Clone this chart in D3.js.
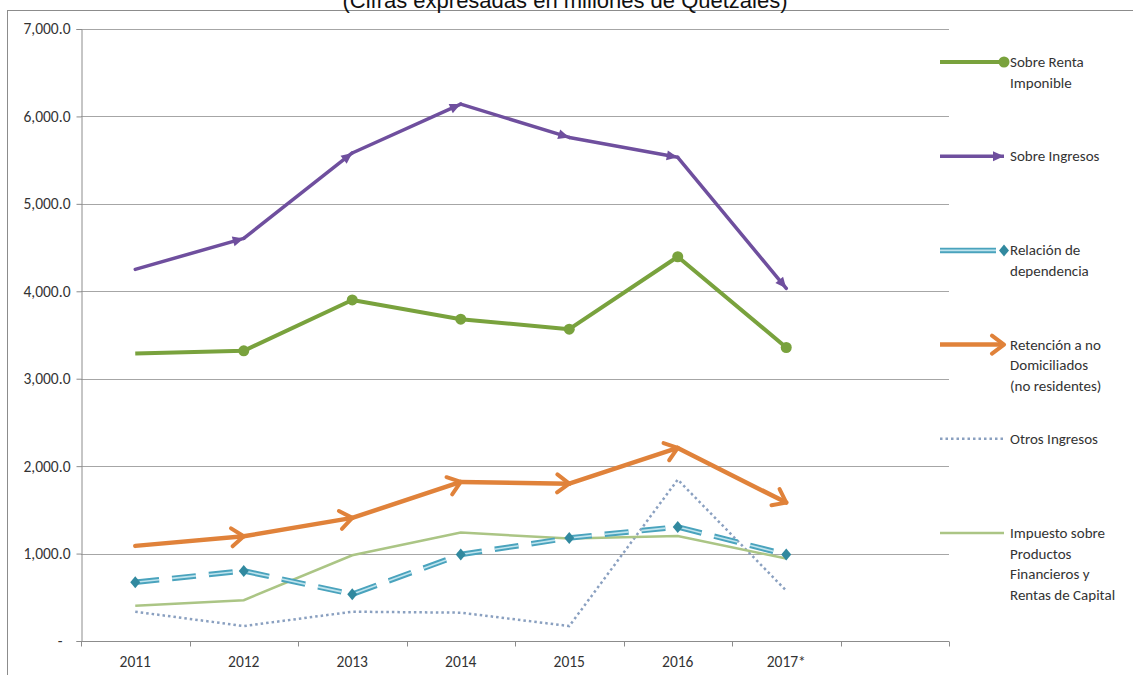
<!DOCTYPE html>
<html>
<head>
<meta charset="utf-8">
<script src="https://cdn.jsdelivr.net/npm/d3@7"></script>
<style>
  body { margin: 0; background: #fff; }
  svg { display: block; }
  text { font-family: Carlito, Lato, "Liberation Sans", sans-serif; fill: #222; }
</style>
</head>
<body>
<script>
// Impuesto Sobre la Renta por rubro (millones de Quetzales)
const years = ["2011", "2012", "2013", "2014", "2015", "2016", "2017*"];
const yTicks = [0, 1000, 2000, 3000, 4000, 5000, 6000, 7000];

const sobreRenta = [3289, 3319, 3901, 3681, 3567, 4395, 3357];
const sobreIngresos = [4251, 4605, 5582, 6141, 5760, 5532, 4034];
const relacionDep = [672, 802, 535, 989, 1179, 1305, 989];
const retencionNoDom = [1088, 1198, 1408, 1819, 1800, 2208, 1583];
const otrosIngresos = [335, 171, 335, 324, 171, 1846, 575];
const impuestoProductos = [402, 467, 981, 1240, 1171, 1202, 943];

const legendLabels = [
  ["Sobre Renta", "Imponible"],
  ["Sobre Ingresos"],
  ["Relación de", "dependencia"],
  ["Retención a no", "Domiciliados", "(no residentes)"],
  ["Otros Ingresos"],
  ["Impuesto sobre", "Productos", "Financieros y", "Rentas de Capital"]
];

const width = 1133, height = 675;
const margin = { top: 29, left: 81, right: 184, bottom: 34 };

const svg = d3.select("body").append("svg")
  .attr("width", width)
  .attr("height", height);

// outer frame of the chart area
svg.append("rect")
  .attr("x", 7.5).attr("y", 10.5)
  .attr("width", width + 20).attr("height", height + 20)
  .attr("fill", "none").attr("stroke", "#8c8c8c");

svg.append("text")
  .attr("x", 565).attr("y", 8)
  .attr("text-anchor", "middle")
  .style("font-family", "'Liberation Sans', Arial, sans-serif")
  .style("font-size", "22px")
  .style("fill", "#111")
  .text("(Cifras expresadas en millones de Quetzales)");

// the category axis has one extra empty slot at the end
const x = d3.scaleBand()
  .domain(years.concat([""]))
  .range([margin.left, width - margin.right]);

const y = d3.scaleLinear()
  .domain([0, 7000])
  .range([height - margin.bottom, margin.top]);

const cx = (i) => x(years[i]) + x.bandwidth() / 2;

// gridlines
svg.append("g")
  .selectAll("line")
  .data(yTicks.slice(1))
  .join("line")
  .attr("x1", margin.left).attr("x2", width - margin.right)
  .attr("y1", (d) => Math.round(y(d)) + 0.5)
  .attr("y2", (d) => Math.round(y(d)) + 0.5)
  .attr("stroke", "#a6a6a6");

// y axis
const yAxis = d3.axisLeft(y)
  .tickValues(yTicks)
  .tickSize(5)
  .tickPadding(6)
  .tickFormat((d) => d === 0 ? "-" : d3.format(",.1f")(d));

const gy = svg.append("g")
  .attr("transform", "translate(" + (margin.left + 0.5) + ",0)")
  .call(yAxis);
gy.attr("font-family", null).attr("font-size", null);
gy.select(".domain").attr("stroke", "#8c8c8c");
gy.selectAll(".tick line").attr("stroke", "#8c8c8c");
gy.selectAll(".tick text").style("font-size", "15.5px").style("fill", "#333");
gy.select(".tick text").attr("dx", -8);

// x axis: ticks on the category boundaries
const gx = svg.append("g")
  .attr("transform", "translate(0," + (Math.round(y(0)) + 0.5) + ")");
gx.append("line")
  .attr("x1", margin.left).attr("x2", width - margin.right)
  .attr("stroke", "#8c8c8c");
gx.selectAll(".bound")
  .data(x.domain().concat(["end"]))
  .join("line")
  .attr("class", "bound")
  .attr("x1", (d, i) => Math.round(margin.left + i * x.step()) + 0.5)
  .attr("x2", (d, i) => Math.round(margin.left + i * x.step()) + 0.5)
  .attr("y1", 0).attr("y2", 5)
  .attr("stroke", "#8c8c8c");
gx.selectAll(".lab")
  .data(years)
  .join("text")
  .attr("class", "lab")
  .attr("x", (d) => x(d) + x.bandwidth() / 2)
  .attr("y", 25)
  .attr("text-anchor", "middle")
  .style("font-size", "15.5px")
  .style("fill", "#333")
  .text((d) => d);

// markers
const defs = svg.append("defs");
defs.append("marker")
  .attr("id", "arrowPurple")
  .attr("markerUnits", "userSpaceOnUse")
  .attr("viewBox", "-12 -6 13 12")
  .attr("refX", 0).attr("refY", 0)
  .attr("markerWidth", 13).attr("markerHeight", 12)
  .attr("orient", "auto")
  .append("path")
  .attr("d", "M-11,-5 L0,0 L-11,5 Z")
  .attr("fill", "#6f4f9e");
defs.append("marker")
  .attr("id", "arrowOrange")
  .attr("markerUnits", "userSpaceOnUse")
  .attr("viewBox", "-16 -12 19 24")
  .attr("refX", 0).attr("refY", 0)
  .attr("markerWidth", 19).attr("markerHeight", 24)
  .attr("orient", "auto")
  .append("path")
  .attr("d", "M-12,-9 L0,0 L-12,9")
  .attr("fill", "none")
  .attr("stroke", "#e0823a")
  .attr("stroke-width", 4)
  .attr("stroke-linecap", "round")
  .attr("stroke-linejoin", "round");

const line = d3.line()
  .x((d, i) => cx(i))
  .y((d) => y(d));

const plot = svg.append("g");

// Otros Ingresos (dotted)
plot.append("path")
  .datum(otrosIngresos)
  .attr("d", line)
  .attr("fill", "none")
  .attr("stroke", "#8aa0c0")
  .attr("stroke-width", 2.5)
  .attr("stroke-dasharray", "2.5,3");

// Impuesto sobre Productos Financieros
plot.append("path")
  .datum(impuestoProductos)
  .attr("d", line)
  .attr("fill", "none")
  .attr("stroke", "#abc585")
  .attr("stroke-width", 2.5);

// Relación de dependencia: compound dashed line
plot.append("path")
  .datum(relacionDep)
  .attr("d", line)
  .attr("fill", "none")
  .attr("stroke", "#4aa3bd")
  .attr("stroke-width", 5.5)
  .attr("stroke-dasharray", "24,13");
plot.append("path")
  .datum(relacionDep)
  .attr("d", line)
  .attr("fill", "none")
  .attr("stroke", "#bfe4ee")
  .attr("stroke-width", 1.6)
  .attr("stroke-dasharray", "24,13");
plot.selectAll(".dia")
  .data(relacionDep)
  .join("path")
  .attr("class", "dia")
  .attr("transform", (d, i) => "translate(" + cx(i) + "," + y(d) + ")")
  .attr("d", "M0,-6 L5,0 L0,6 L-5,0 Z")
  .attr("fill", "#31899f");

// Retención a no domiciliados: open arrows on each segment
plot.selectAll(".segO")
  .data(retencionNoDom.slice(1))
  .join("line")
  .attr("class", "segO")
  .attr("x1", (d, i) => cx(i)).attr("y1", (d, i) => y(retencionNoDom[i]))
  .attr("x2", (d, i) => cx(i + 1)).attr("y2", (d) => y(d))
  .attr("stroke", "#e0823a")
  .attr("stroke-width", 4.5)
  .attr("stroke-linecap", "round")
  .attr("marker-end", "url(#arrowOrange)");

// Sobre Renta Imponible
plot.append("path")
  .datum(sobreRenta)
  .attr("d", line)
  .attr("fill", "none")
  .attr("stroke", "#79a23d")
  .attr("stroke-width", 4)
  .attr("stroke-linejoin", "round");
plot.selectAll(".dot")
  .data(sobreRenta.slice(1))
  .join("circle")
  .attr("class", "dot")
  .attr("cx", (d, i) => cx(i + 1))
  .attr("cy", (d) => y(d))
  .attr("r", 5.5)
  .attr("fill", "#79a23d");

// Sobre Ingresos: filled arrows on each segment
plot.selectAll(".segP")
  .data(sobreIngresos.slice(1))
  .join("line")
  .attr("class", "segP")
  .attr("x1", (d, i) => cx(i)).attr("y1", (d, i) => y(sobreIngresos[i]))
  .attr("x2", (d, i) => cx(i + 1)).attr("y2", (d) => y(d))
  .attr("stroke", "#6f4f9e")
  .attr("stroke-width", 3.5)
  .attr("stroke-linecap", "round")
  .attr("marker-end", "url(#arrowPurple)");

// legend
const legX1 = 940, legX2 = 1004, textX = 1010;
const legY = d3.scaleLinear().domain([0, 5]).range([62, 533]);
const lineH = 20.5;

const leg = svg.append("g");
legendLabels.forEach((lines, k) => {
  const ly = legY(k);
  const t = leg.append("text")
    .attr("x", textX)
    .attr("y", ly + 5)
    .style("font-size", "15px")
    .style("fill", "#333");
  lines.forEach((s, j) => {
    t.append("tspan").attr("x", textX).attr("dy", j === 0 ? 0 : lineH).text(s);
  });
});

// legend symbols
leg.append("line")
  .attr("x1", legX1).attr("x2", legX2).attr("y1", legY(0)).attr("y2", legY(0))
  .attr("stroke", "#79a23d").attr("stroke-width", 4);
leg.append("circle")
  .attr("cx", legX2).attr("cy", legY(0)).attr("r", 5.5).attr("fill", "#79a23d");

leg.append("line")
  .attr("x1", legX1).attr("x2", legX2).attr("y1", legY(1)).attr("y2", legY(1))
  .attr("stroke", "#6f4f9e").attr("stroke-width", 3.5)
  .attr("marker-end", "url(#arrowPurple)");

leg.append("line")
  .attr("x1", legX1).attr("x2", legX2 - 8).attr("y1", legY(2)).attr("y2", legY(2))
  .attr("stroke", "#4aa3bd").attr("stroke-width", 5.5);
leg.append("line")
  .attr("x1", legX1).attr("x2", legX2 - 8).attr("y1", legY(2)).attr("y2", legY(2))
  .attr("stroke", "#bfe4ee").attr("stroke-width", 1.6);
leg.append("path")
  .attr("transform", "translate(" + legX2 + "," + legY(2) + ")")
  .attr("d", "M0,-6 L5,0 L0,6 L-5,0 Z")
  .attr("fill", "#31899f");

leg.append("line")
  .attr("x1", legX1).attr("x2", legX2).attr("y1", legY(3)).attr("y2", legY(3))
  .attr("stroke", "#e0823a").attr("stroke-width", 4.5)
  .attr("marker-end", "url(#arrowOrange)");

leg.append("line")
  .attr("x1", legX1).attr("x2", legX2).attr("y1", legY(4)).attr("y2", legY(4))
  .attr("stroke", "#8aa0c0").attr("stroke-width", 2.5)
  .attr("stroke-dasharray", "2.5,3");

leg.append("line")
  .attr("x1", legX1).attr("x2", legX2).attr("y1", legY(5)).attr("y2", legY(5))
  .attr("stroke", "#abc585").attr("stroke-width", 2.5);
</script>
</body>
</html>
